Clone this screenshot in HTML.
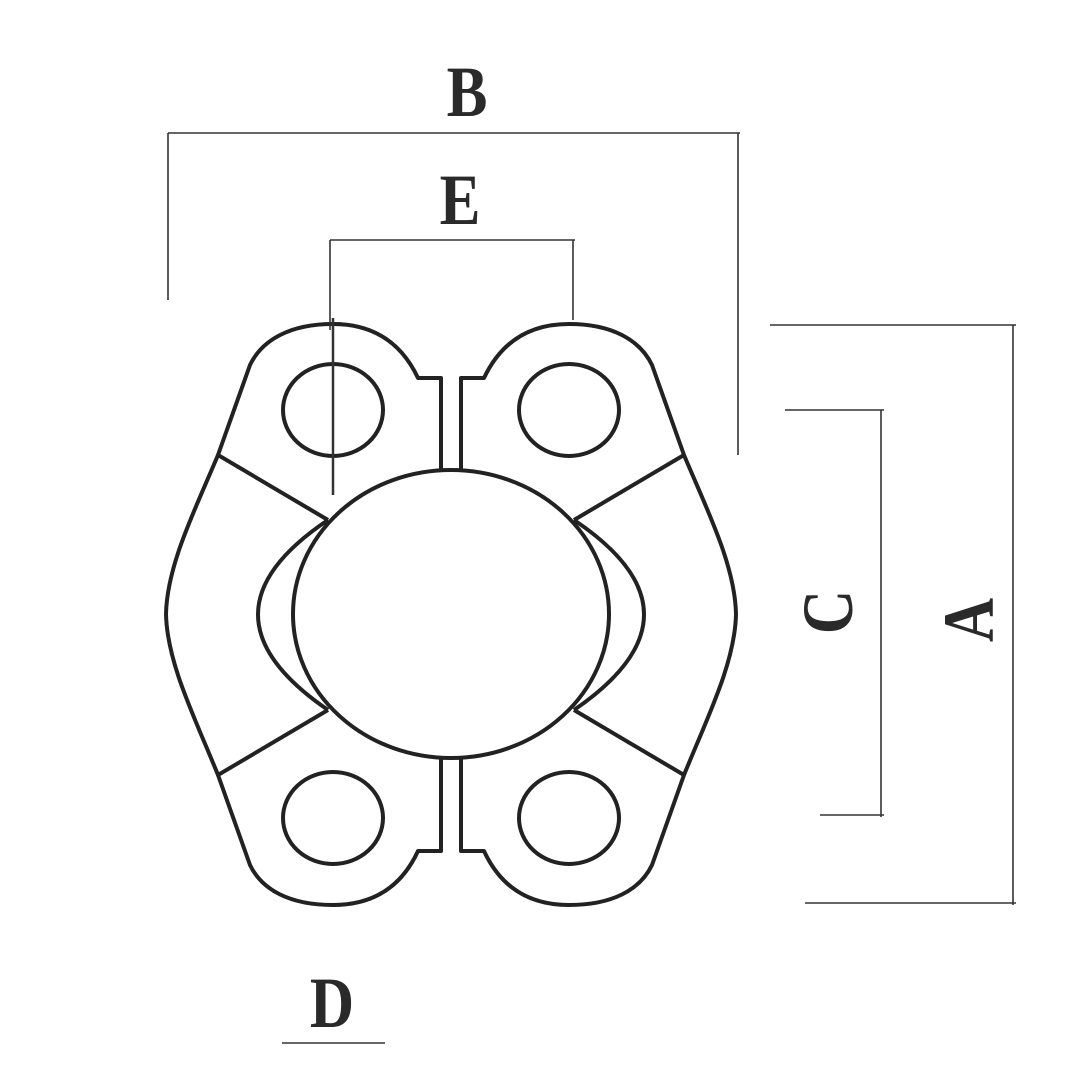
<!DOCTYPE html>
<html><head><style>html,body{margin:0;padding:0;background:#fff}svg{display:block}</style></head>
<body>
<svg width="1080" height="1080" viewBox="0 0 1080 1080" xmlns="http://www.w3.org/2000/svg">
<g id="half" fill="none" stroke="#222" stroke-width="4" stroke-linejoin="round">
  <path d="M441,470 L441,378 L418,378 C400,340 370,324 333,324 C290,324 262,340 250,365 L218,455 C195,510 167,565 166,614 C167,663 195,718 218,775 L250,865 C262,890 290,905 333,905 C370,905 400,890 418,851 L441,851 L441,758"/>
  <line x1="218" y1="455" x2="328" y2="520"/>
  <line x1="218" y1="775" x2="328" y2="710"/>
  <path d="M328,520 Q188,614 328,710"/>
  <ellipse cx="333" cy="410" rx="50" ry="46"/>
  <ellipse cx="333" cy="818" rx="50" ry="46"/>
</g>
<use href="#half" transform="translate(902,0) scale(-1,1)"/>
<ellipse cx="451" cy="614" rx="158" ry="144" fill="none" stroke="#222" stroke-width="4"/>
<g stroke="#333" stroke-width="1.6" fill="none">
  <line x1="333" y1="318" x2="333" y2="495" stroke-width="2.5"/>
  <line x1="168" y1="133" x2="740" y2="133"/>
  <line x1="168" y1="133" x2="168" y2="300"/>
  <line x1="738" y1="133" x2="738" y2="455"/>
  <line x1="330" y1="240" x2="575" y2="240"/>
  <line x1="330" y1="240" x2="330" y2="330"/>
  <line x1="573" y1="240" x2="573" y2="320"/>
  <line x1="1013" y1="325" x2="1013" y2="905"/>
  <line x1="770" y1="325" x2="1016" y2="325"/>
  <line x1="805" y1="903" x2="1016" y2="903"/>
  <line x1="881" y1="410" x2="881" y2="817"/>
  <line x1="785" y1="410" x2="884" y2="410"/>
  <line x1="820" y1="815" x2="884" y2="815"/>
  <line x1="282" y1="1043" x2="385" y2="1043"/>
</g>
<g font-family="Liberation Serif, serif" font-size="72" font-weight="bold" fill="#2a2a2a" text-anchor="middle">
  <text x="467" y="116" transform="translate(467,0) scale(0.85,1) translate(-467,0)">B</text>
  <text x="460" y="224" transform="translate(460,0) scale(0.85,1) translate(-460,0)">E</text>
  <text x="332" y="1027" transform="translate(332,0) scale(0.85,1) translate(-332,0)">D</text>
  <text transform="translate(852,612) rotate(-90) scale(0.85,1)">C</text>
  <text transform="translate(993,620) rotate(-90) scale(0.85,1)">A</text>
</g>
</svg>
</body></html>
